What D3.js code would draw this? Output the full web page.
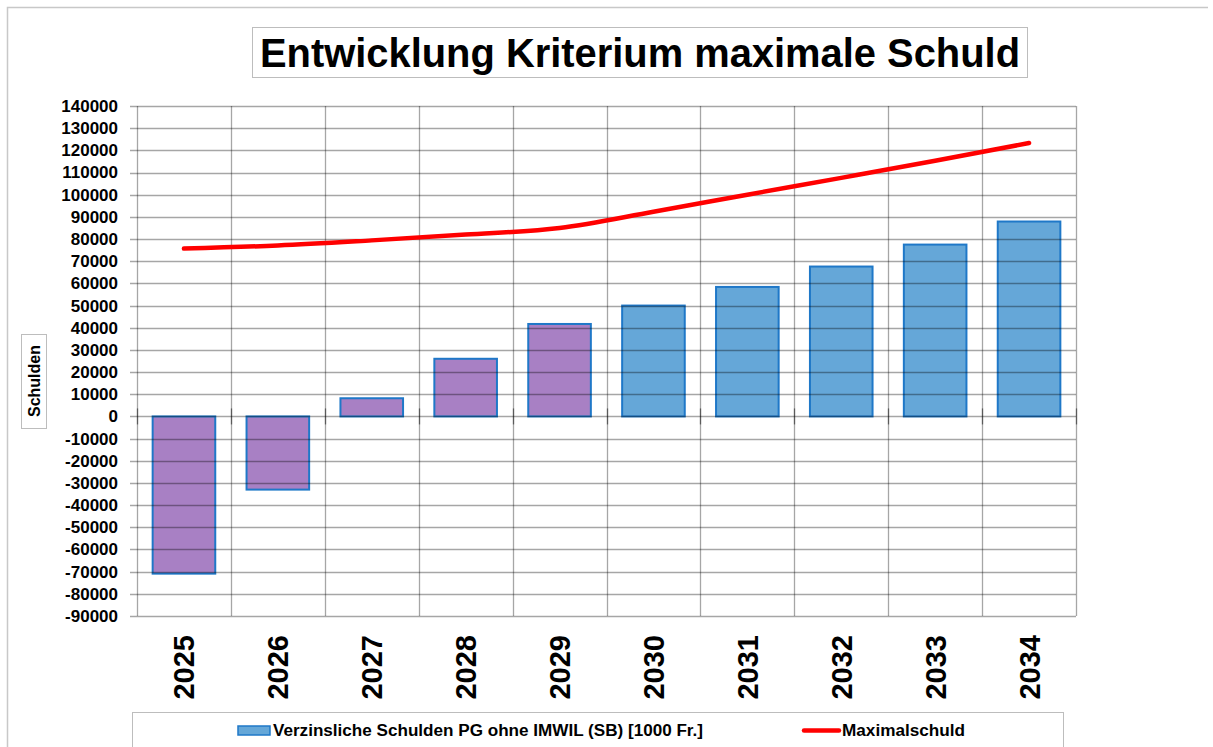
<!DOCTYPE html>
<html>
<head>
<meta charset="utf-8">
<script src="https://cdn.jsdelivr.net/npm/d3@7"></script>
<style>
  body { margin: 0; background: #fff; }
  text { font-family: "Liberation Sans", Arial, sans-serif; fill: #000; }
</style>
</head>
<body>
<svg id="chart" width="1213" height="747"></svg>
<script>
  // data
  var years = ["2025", "2026", "2027", "2028", "2029", "2030", "2031", "2032", "2033", "2034"];
  var schulden = [-70900, -33000, 8200, 26000, 41700, 50000, 58400, 67600, 77500, 87900];
  var maximalschuld = [75700, 77100, 79400, 82000, 85000, 92300, 100000, 107600, 115300, 123300];
  // first five years are drawn in purple, the rest in blue
  var purpleYears = ["2025", "2026", "2027", "2028", "2029"];
  var yTicks = d3.range(-90000, 140001, 10000);

  var svg = d3.select("#chart");

  // note: "top" is window.top, so use other names
  var plotLeft = 137, plotRight = 1076, plotTop = 106, plotBottom = 616;

  var x = d3.scaleBand()
    .domain(years)
    .range([plotLeft, plotRight])
    .paddingInner(1/3)
    .paddingOuter(1/6);

  var y = d3.scaleLinear()
    .domain([-90000, 140000])
    .range([plotBottom, plotTop]);

  // outer chart frame (top and left edges only visible)
  svg.append("path")
    .attr("d", "M7.5,747 V7.5 H1208")
    .attr("fill", "none")
    .attr("stroke", "#c8c8c8")
    .attr("stroke-width", 1.5);

  // title
  svg.append("rect")
    .attr("x", 252.5).attr("y", 27.5)
    .attr("width", 775).attr("height", 50)
    .attr("fill", "#fff")
    .attr("stroke", "#bdbdbd");
  svg.append("text")
    .attr("x", 640).attr("y", 67)
    .attr("text-anchor", "middle")
    .attr("font-size", 40)
    .attr("font-weight", "bold")
    .attr("textLength", 760)
    .attr("lengthAdjust", "spacingAndGlyphs")
    .text("Entwicklung Kriterium maximale Schuld");

  // bars first, grid drawn on top so lines show through like the original
  svg.append("g").selectAll("rect")
    .data(years)
    .enter()
    .append("rect")
    .attr("x", function(d) { return x(d); })
    .attr("width", x.bandwidth())
    .attr("y", function(d, i) { return y(Math.max(0, schulden[i])); })
    .attr("height", function(d, i) { return Math.abs(y(schulden[i]) - y(0)); })
    .attr("fill", function(d) { return purpleYears.indexOf(d) >= 0 ? "#a880c4" : "#65a7d8"; })
    .attr("stroke", "#1f78c8")
    .attr("stroke-width", 2);

  // horizontal grid lines
  svg.append("g").selectAll("line")
    .data(yTicks)
    .enter()
    .append("line")
    .attr("x1", plotLeft - 7).attr("x2", plotRight)
    .attr("y1", function(d) { return Math.round(y(d)) + 0.5; })
    .attr("y2", function(d) { return Math.round(y(d)) + 0.5; })
    .attr("stroke", "#000")
    .attr("stroke-opacity", 0.35)
    .attr("stroke-width", 1.3);

  // vertical grid lines at category boundaries
  var step = x.step();
  var bounds = d3.range(years.length + 1).map(function(i) { return plotLeft + i * step; });
  svg.append("g").selectAll("line")
    .data(bounds)
    .enter()
    .append("line")
    .attr("x1", function(d) { return Math.round(d) + 0.5; })
    .attr("x2", function(d) { return Math.round(d) + 0.5; })
    .attr("y1", plotTop).attr("y2", plotBottom)
    .attr("stroke", "#000")
    .attr("stroke-opacity", 0.35)
    .attr("stroke-width", 1.3);

  // small ticks crossing the zero line
  svg.append("g").selectAll("line")
    .data(bounds)
    .enter()
    .append("line")
    .attr("x1", function(d) { return Math.round(d) + 0.5; })
    .attr("x2", function(d) { return Math.round(d) + 0.5; })
    .attr("y1", y(0) - 8).attr("y2", y(0) + 8)
    .attr("stroke", "#000")
    .attr("stroke-opacity", 0.45)
    .attr("stroke-width", 1.3);

  // y axis labels (plain hyphen for negatives, like the original)
  var yAxis = d3.axisLeft(y)
    .tickValues(yTicks)
    .tickFormat(function(d) { return String(d); })
    .tickSize(0)
    .tickPadding(0);
  var gy = svg.append("g")
    .attr("transform", "translate(118,0)")
    .call(yAxis);
  gy.select(".domain").remove();
  gy.selectAll("text")
    .attr("font-family", "'Liberation Sans', Arial, sans-serif")
    .attr("font-size", 17)
    .attr("font-weight", "bold")
    .attr("fill", "#000");

  // y axis title
  svg.append("rect")
    .attr("x", 21.5).attr("y", 334.5)
    .attr("width", 25).attr("height", 94)
    .attr("fill", "#fff")
    .attr("stroke", "#bdbdbd");
  svg.append("text")
    .attr("transform", "translate(34,381) rotate(-90)")
    .attr("text-anchor", "middle")
    .attr("dy", "0.36em")
    .attr("font-size", 16)
    .attr("font-weight", "bold")
    .text("Schulden");

  // x axis labels, rotated
  svg.append("g").selectAll("text")
    .data(years)
    .enter()
    .append("text")
    .attr("transform", function(d) {
      return "translate(" + (x(d) + x.bandwidth() / 2) + ",635) rotate(-90)";
    })
    .attr("text-anchor", "end")
    .attr("dy", "0.36em")
    .attr("font-size", 29)
    .attr("font-weight", "bold")
    .text(function(d) { return d; });

  // Maximalschuld line
  var line = d3.line()
    .x(function(d, i) { return x(years[i]) + x.bandwidth() / 2; })
    .y(function(d) { return y(d); })
    .curve(d3.curveMonotoneX);
  svg.append("path")
    .datum(maximalschuld)
    .attr("d", line)
    .attr("fill", "none")
    .attr("stroke", "#ff0000")
    .attr("stroke-width", 4.5)
    .attr("stroke-linecap", "round");

  // legend
  svg.append("rect")
    .attr("x", 132.5).attr("y", 712.5)
    .attr("width", 931).attr("height", 50)
    .attr("fill", "#fff")
    .attr("stroke", "#bdbdbd");
  svg.append("rect")
    .attr("x", 238).attr("y", 726)
    .attr("width", 32).attr("height", 9)
    .attr("fill", "#65a7d8")
    .attr("stroke", "#1f78c8")
    .attr("stroke-width", 1.5);
  svg.append("text")
    .attr("x", 273).attr("y", 736)
    .attr("font-family", "'Liberation Sans Narrow', 'Arial Narrow', 'Liberation Sans', sans-serif")
    .attr("font-size", 16)
    .attr("font-weight", "bold")
    .attr("textLength", 430)
    .attr("lengthAdjust", "spacingAndGlyphs")
    .text("Verzinsliche Schulden PG ohne IMWIL (SB) [1000 Fr.]");
  svg.append("line")
    .attr("x1", 804).attr("x2", 839)
    .attr("y1", 730.5).attr("y2", 730.5)
    .attr("stroke", "#ff0000")
    .attr("stroke-width", 4.5)
    .attr("stroke-linecap", "round");
  svg.append("text")
    .attr("x", 842).attr("y", 736)
    .attr("font-family", "'Liberation Sans Narrow', 'Arial Narrow', 'Liberation Sans', sans-serif")
    .attr("font-size", 16)
    .attr("font-weight", "bold")
    .attr("textLength", 123)
    .attr("lengthAdjust", "spacingAndGlyphs")
    .text("Maximalschuld");
</script>
</body>
</html>
